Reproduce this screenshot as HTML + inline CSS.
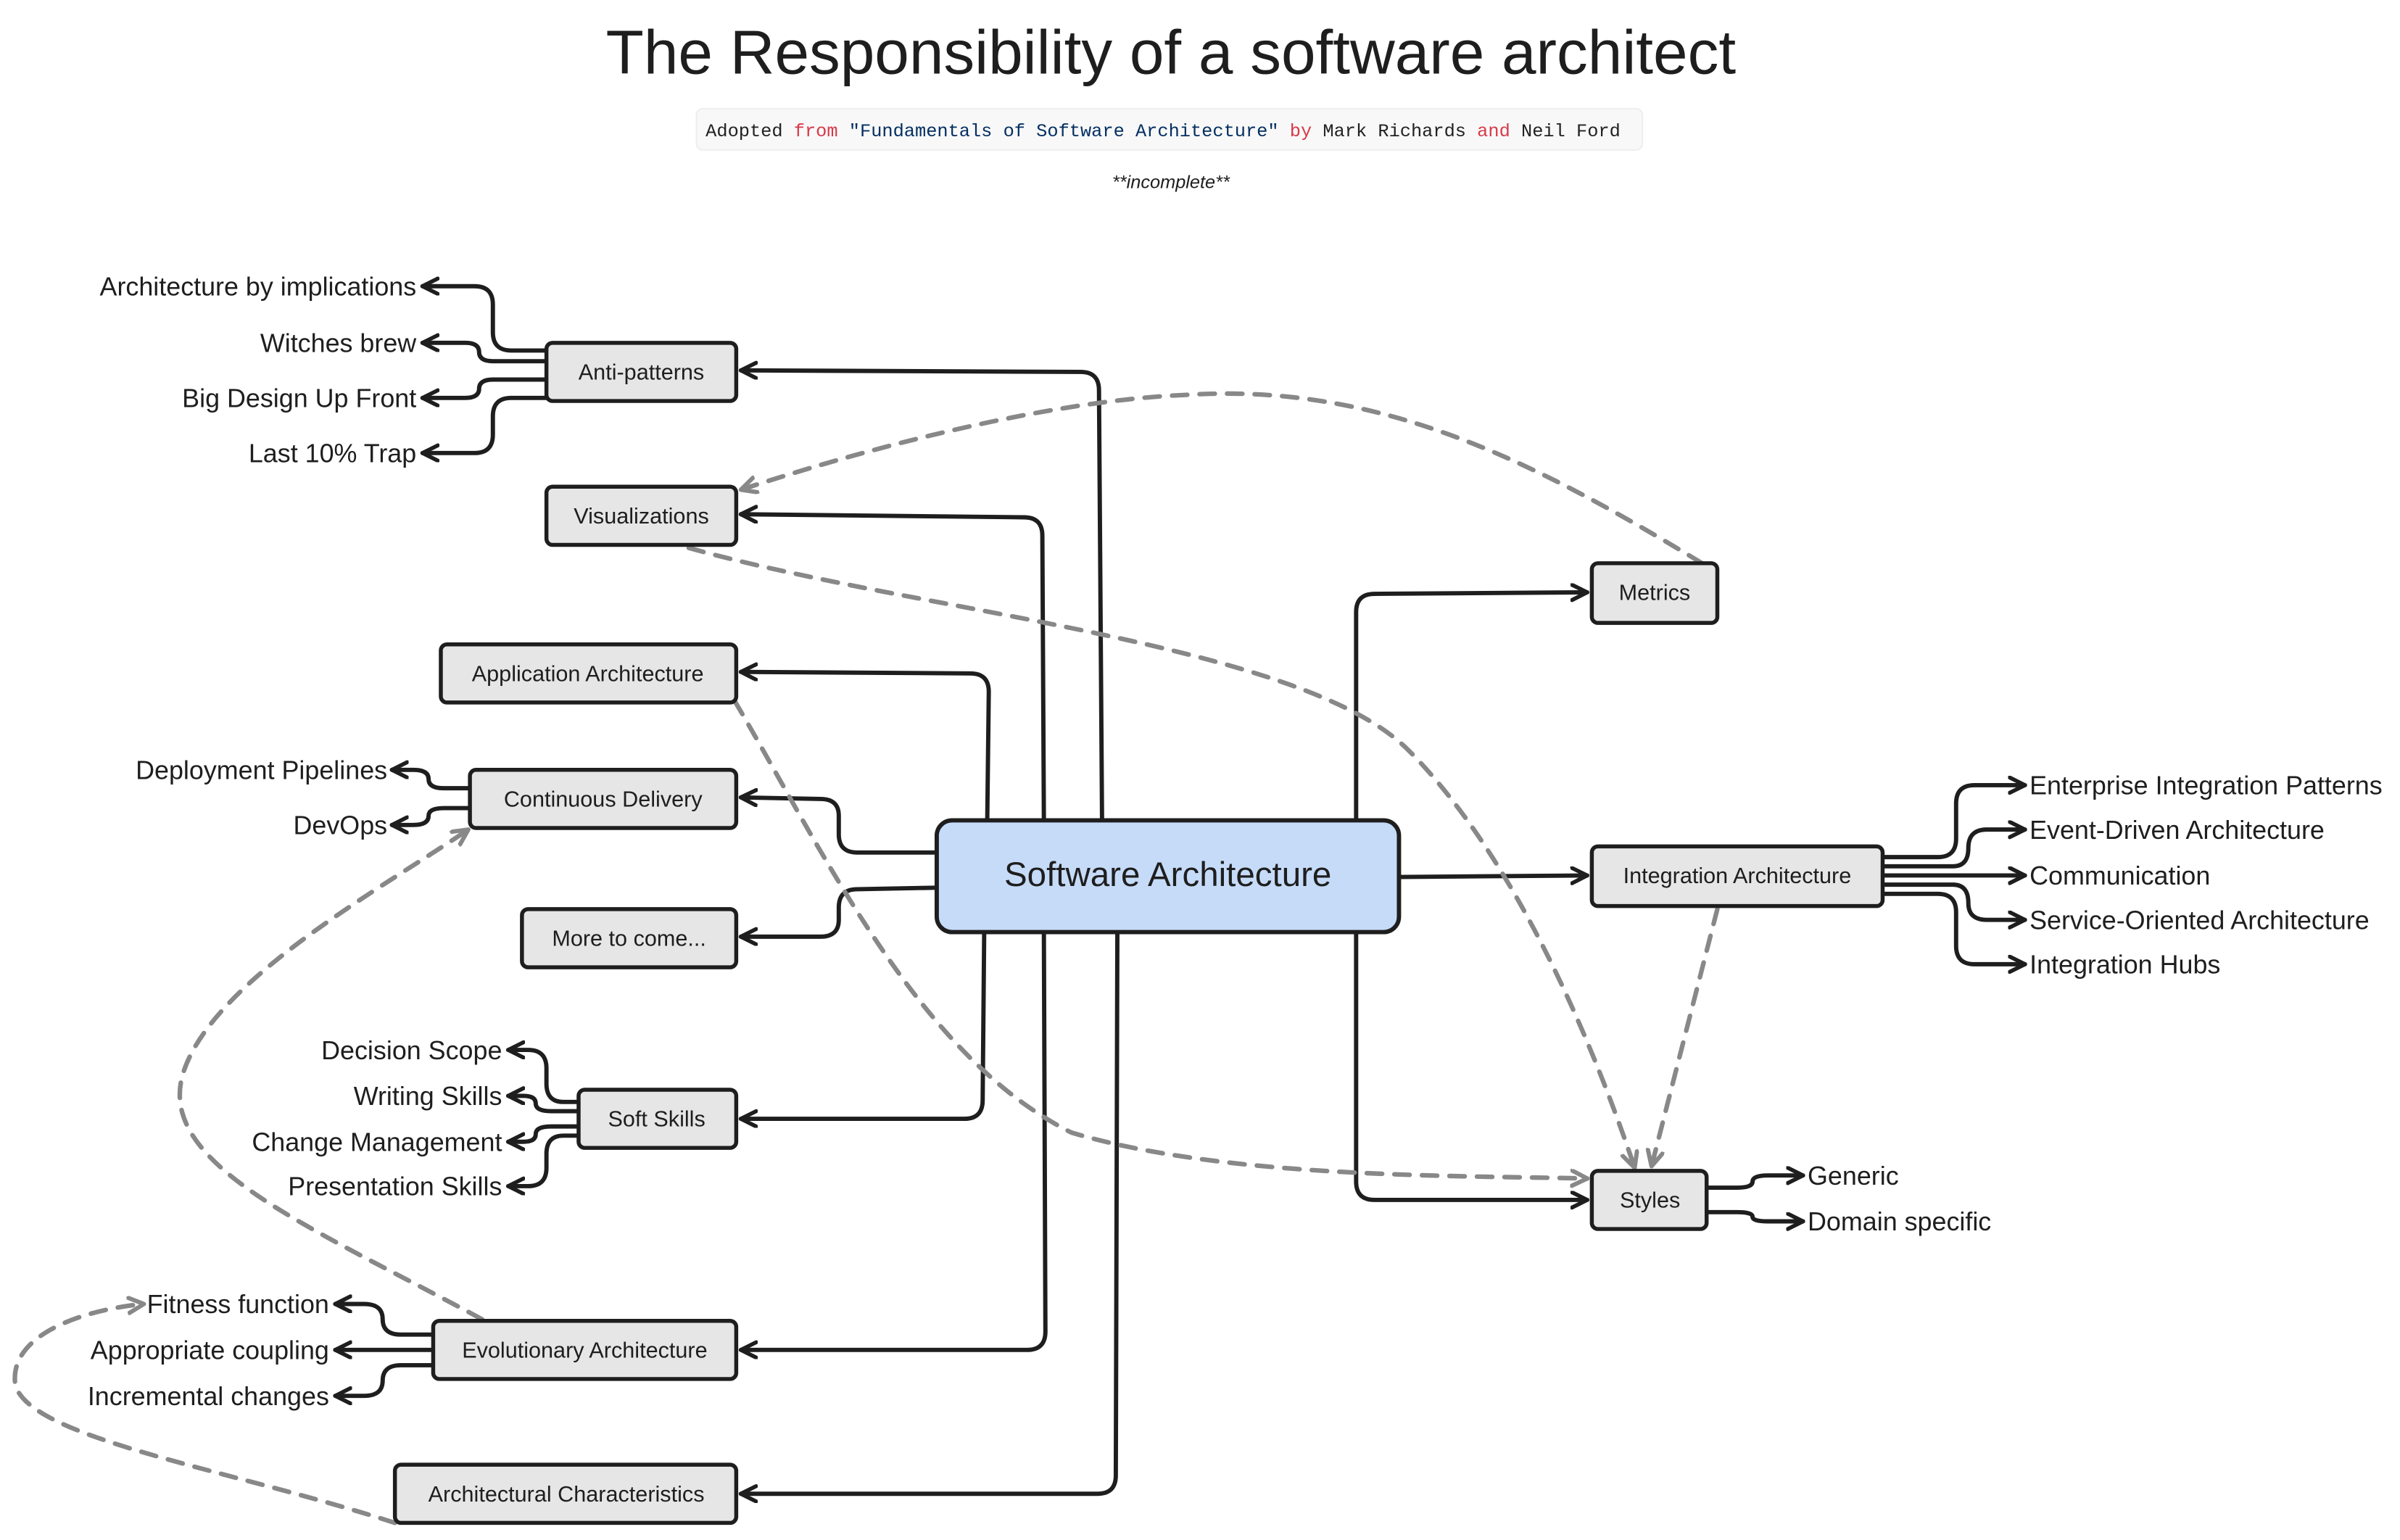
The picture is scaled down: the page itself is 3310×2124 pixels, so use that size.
<!DOCTYPE html>
<html><head><meta charset="utf-8"><style>
html,body{margin:0;padding:0;background:#fff;}
svg{display:block;}
text{font-family:"Liberation Sans",sans-serif;fill:#1e1e1e;}
.n{font-size:14.5px;text-anchor:middle;}
.l{font-size:17px;}
.b{fill:#e6e6e6;stroke:#1e1e1e;stroke-width:2.6;}
.e{fill:none;stroke:#1e1e1e;stroke-width:2.8;stroke-linecap:round;stroke-linejoin:round;}
.d{fill:none;stroke:#888;stroke-width:3;stroke-dasharray:10 8;stroke-linecap:round;}
</style></head><body>
<svg width="3310" height="2124" viewBox="0 0 1568 1006.2" xmlns="http://www.w3.org/2000/svg">
<defs>
<marker id="a" markerUnits="userSpaceOnUse" markerWidth="16" markerHeight="16" refX="11" refY="6" orient="auto"><path d="M1,1 L11,6 L1,11" fill="none" stroke="#1e1e1e" stroke-width="2.6" stroke-linecap="round" stroke-linejoin="round"/></marker>
<marker id="g" markerUnits="userSpaceOnUse" markerWidth="16" markerHeight="16" refX="11" refY="6" orient="auto"><path d="M1,1 L11,6 L1,11" fill="none" stroke="#888" stroke-width="2.8" stroke-linecap="round" stroke-linejoin="round"/></marker>
</defs>
<text x="765" y="48" style="font-size:40.5px;text-anchor:middle">The Responsibility of a software architect</text>
<rect x="455" y="71" width="618" height="27" rx="4" fill="#f8f8f8" stroke="#eee"/>
<text x="461" y="89" style="font-family:'Liberation Mono',monospace;font-size:12px;fill:#222">Adopted <tspan fill="#d73a49">from</tspan> <tspan fill="#032f62">"Fundamentals of Software Architecture"</tspan> <tspan fill="#d73a49">by</tspan> Mark Richards <tspan fill="#d73a49">and</tspan> Neil Ford</text>
<text x="765" y="123" style="font-size:12px;font-style:italic;text-anchor:middle">**incomplete**</text>

<g class="e" marker-end="url(#a)">
<path d="M720,536 L718,255 Q718,243 706,243 L484,242"/>
<path d="M682,536 L681,350 Q681,338 669,338 L484,336"/>
<path d="M645,536 L646,452 Q646,440 634,440 L484,439"/>
<path d="M612,557 L560,557 Q548,557 548,545 L548,533 Q548,522 536,522 L484,521"/>
<path d="M612,580 L560,581 Q548,581 548,593 L548,601 Q548,612 536,612 L484,612"/>
<path d="M643,609 L642,719 Q642,731 630,731 L484,731"/>
<path d="M682,609 L683,870 Q683,882 671,882 L484,882"/>
<path d="M730,609 L729,964 Q729,976 717,976 L484,976"/>
<path d="M886,536 L886,400 Q886,388 898,388 L1037,387"/>
<path d="M886,609 L886,772 Q886,784 898,784 L1037,784"/>
<path d="M914,573 L1037,572"/>
<path d="M357,229 L334,229 Q322,229 322,217 L322,199 Q322,187 310,187 L276,187"/>
<path d="M357,236 L322,236 Q313,236 313,230 Q313,224 304,224 L276,224"/>
<path d="M357,248 L322,248 Q313,248 313,254 Q313,260 304,260 L276,260"/>
<path d="M357,260 L334,260 Q322,260 322,272 L322,284 Q322,296 310,296 L276,296"/>
<path d="M307,515 L290,515 Q280,515 280,509 Q280,503 270,503 L256,503"/>
<path d="M307,528 L290,528 Q280,528 280,533 Q280,539 270,539 L256,539"/>
<path d="M378,720 L368,720 Q357,720 357,708 L357,698 Q357,686 345,686 L332,686"/>
<path d="M378,726 L360,726 Q350,726 350,721 Q350,716 342,716 L332,716"/>
<path d="M378,736 L360,736 Q350,736 350,741 Q350,746 342,746 L332,746"/>
<path d="M378,742 L368,742 Q357,742 357,754 L357,763 Q357,775 345,775 L332,775"/>
<path d="M283,872 L262,872 Q250,872 250,862 Q250,852 238,852 L219,852"/>
<path d="M283,882 L219,882"/>
<path d="M283,892 L262,892 Q250,892 250,902 Q250,912 238,912 L219,912"/>
<path d="M1230,560 L1266,560 Q1278,560 1278,548 L1278,525 Q1278,513 1290,513 L1323,513"/>
<path d="M1230,566 L1276,566 Q1286,566 1286,554 Q1286,542 1298,542 L1323,542"/>
<path d="M1230,572 L1323,572"/>
<path d="M1230,578 L1276,578 Q1286,578 1286,590 Q1286,601 1298,601 L1323,601"/>
<path d="M1230,584 L1266,584 Q1278,584 1278,596 L1278,618 Q1278,630 1290,630 L1323,630"/>
<path d="M1115,776 L1135,776 Q1145,776 1145,772 Q1145,768 1155,768 L1178,768"/>
<path d="M1115,792 L1135,792 Q1145,792 1145,795 Q1145,798 1155,798 L1178,798"/>
</g>

<g class="d" marker-end="url(#g)">
<path d="M1112,368 C1000,300 900,250 775,258 C680,262 560,295 484,320"/>
<path d="M450,358 C600,400 850,420 920,490 C990,560 1040,680 1068,763"/>
<path d="M480,458 C540,560 600,690 700,740 C800,770 950,768 1037,770"/>
<path d="M1122,594 L1079,762"/>
<path d="M315,862 C200,800 100,760 120,700 C140,640 250,580 306,542"/>
<path d="M258,995 C150,960 20,940 10,905 C5,870 60,855 94,852"/>
</g>

<rect class="b" x="357" y="224" width="124" height="38" rx="4"/><text class="n" x="419" y="248">Anti-patterns</text>
<rect class="b" x="357" y="318" width="124" height="38" rx="4"/><text class="n" x="419" y="342">Visualizations</text>
<rect class="b" x="1040" y="368" width="82" height="39" rx="4"/><text class="n" x="1081" y="392">Metrics</text>
<rect class="b" x="288" y="421" width="193" height="38" rx="4"/><text class="n" x="384" y="445">Application Architecture</text>
<rect class="b" x="307" y="503" width="174" height="38" rx="4"/><text class="n" x="394" y="527">Continuous Delivery</text>
<rect x="612" y="536" width="302" height="73" rx="10" fill="#c6dbf8" stroke="#1e1e1e" stroke-width="2.8"/><text x="763" y="579" style="font-size:22.5px;text-anchor:middle">Software Architecture</text>
<rect class="b" x="1040" y="553" width="190" height="39" rx="4"/><text class="n" x="1135" y="577">Integration Architecture</text>
<rect class="b" x="341" y="594" width="140" height="38" rx="4"/><text class="n" x="411" y="618">More to come...</text>
<rect class="b" x="378" y="712" width="103" height="38" rx="4"/><text class="n" x="429" y="736">Soft Skills</text>
<rect class="b" x="1040" y="765" width="75" height="38" rx="4"/><text class="n" x="1078" y="789">Styles</text>
<rect class="b" x="283" y="863" width="198" height="38" rx="4"/><text class="n" x="382" y="887">Evolutionary Architecture</text>
<rect class="b" x="258" y="957" width="223" height="38" rx="4"/><text class="n" x="370" y="981">Architectural Characteristics</text>

<g text-anchor="end">
<text class="l" x="272" y="193">Architecture by implications</text>
<text class="l" x="272" y="230">Witches brew</text>
<text class="l" x="272" y="266">Big Design Up Front</text>
<text class="l" x="272" y="302">Last 10% Trap</text>
<text class="l" x="253" y="509">Deployment Pipelines</text>
<text class="l" x="253" y="545">DevOps</text>
<text class="l" x="328" y="692">Decision Scope</text>
<text class="l" x="328" y="722">Writing Skills</text>
<text class="l" x="328" y="752">Change Management</text>
<text class="l" x="328" y="781">Presentation Skills</text>
<text class="l" x="215" y="858">Fitness function</text>
<text class="l" x="215" y="888">Appropriate coupling</text>
<text class="l" x="215" y="918">Incremental changes</text>
</g>
<g>
<text class="l" x="1326" y="519">Enterprise Integration Patterns</text>
<text class="l" x="1326" y="548">Event-Driven Architecture</text>
<text class="l" x="1326" y="578">Communication</text>
<text class="l" x="1326" y="607">Service-Oriented Architecture</text>
<text class="l" x="1326" y="636">Integration Hubs</text>
<text class="l" x="1181" y="774">Generic</text>
<text class="l" x="1181" y="804">Domain specific</text>
</g>
</svg>
</body></html>
